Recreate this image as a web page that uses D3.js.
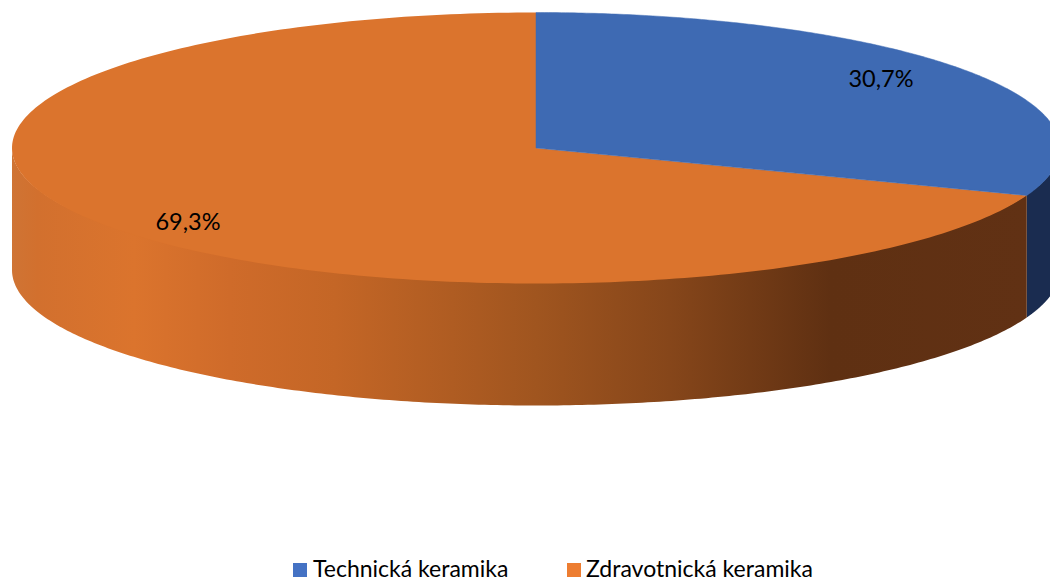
<!DOCTYPE html>
<html><head><meta charset="utf-8">
<script src="https://cdn.jsdelivr.net/npm/d3@7/dist/d3.min.js"></script>
<style>html,body{margin:0;padding:0;background:#fff}svg{display:block}text{font-family:Lato,"Open Sans",sans-serif;fill:#000}</style>
</head><body><div id="c"></div>
<script>
const categories = ["Technická keramika", "Zdravotnická keramika"];
const values = [30.7, 69.3];
const labels = ["30,7%", "69,3%"];
const topColors = ["#3e6ab3", "#db742d"];
const legendColors = ["#4472c4", "#ed7d31"];
const sideColor = "#1a2c50";

const W = 1050, H = 581, cx = 536, cy = 148, rx = 524, ry = 135.5, depth = 122;
const svg = d3.select("#c").append("svg").attr("width", W).attr("height", H);
const defs = svg.append("defs");
const grad = defs.append("linearGradient").attr("id", "side").attr("gradientUnits", "userSpaceOnUse")
  .attr("x1", 12).attr("x2", 1030).attr("y1", 0).attr("y2", 0);
[[0, "#cf7434"], [0.025, "#d2702e"], [0.12, "#db742d"], [0.214, "#cf6b2a"], [0.317, "#c46626"], [0.515, "#a0551f"], [0.646, "#86461a"], [0.804, "#5f3012"], [1, "#613114"]]
  .forEach(s => grad.append("stop").attr("offset", s[0]).attr("stop-color", s[1]));

const arcs = d3.pie().sort(null)(values);
const x = d3.scaleLinear().domain([-1, 1]).range([cx - rx, cx + rx]);
const y = d3.scaleLinear().domain([-1, 1]).range([cy - ry, cy + ry]);
const px = a => x(Math.sin(a)), py = a => y(-Math.cos(a));
const samples = (a0, a1) => d3.range(0, 241).map(i => a0 + (a1 - a0) * i / 240);

function topPath(a) {
  return "M" + cx + "," + cy + samples(a.startAngle, a.endAngle).map(t => "L" + px(t) + "," + py(t)).join("") + "Z";
}
// wall between two pie angles; its upper edge runs slightly under the top face so no seam shows
function wallPath(a0, a1) {
  const pts = samples(a0, a1);
  const upper = pts.map(t => [px(t), py(t) + 2 * Math.cos(t)]);
  const lower = pts.slice().reverse().map(t => [px(t), py(t) + depth]);
  return "M" + upper.concat(lower).map(p => p.join(",")).join("L") + "Z";
}

svg.append("path").attr("fill", sideColor).attr("d", wallPath(Math.PI / 2, arcs[0].endAngle));
svg.append("path").attr("fill", "url(#side)").attr("d", wallPath(arcs[1].startAngle, Math.PI * 1.5));

// orange first, blue on top with a hairline of its own colour to close the seam between the slices
svg.append("path").attr("d", topPath(arcs[1])).attr("fill", topColors[1]);
svg.append("path").attr("d", topPath(arcs[0])).attr("fill", topColors[0])
  .attr("stroke", topColors[0]).attr("stroke-width", 0.5);

const labelAnchors = [[881, 87], [188, 230]];
svg.selectAll("text.lab").data(labels).join("text").attr("class", "lab")
  .attr("x", (d, i) => labelAnchors[i][0]).attr("y", (d, i) => labelAnchors[i][1])
  .attr("text-anchor", "middle").attr("font-size", 23.5).text(d => d);

const legendX = [293, 567], legendT = [313, 586];
categories.forEach((c, i) => {
  svg.append("rect").attr("x", legendX[i]).attr("y", 563).attr("width", 14).attr("height", 14).attr("fill", legendColors[i]);
  svg.append("text").attr("x", legendT[i]).attr("y", 577).attr("font-size", 23).text(c);
});
</script></body></html>
